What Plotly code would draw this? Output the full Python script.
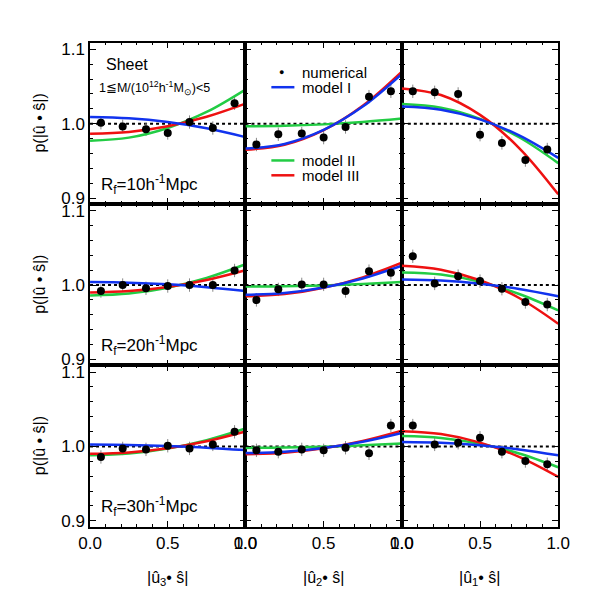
import plotly.graph_objects as go

W = H = 591
x_bins = [0.07, 0.21, 0.36, 0.5, 0.64, 0.79, 0.93]
x_curve = [0.0, 0.25, 0.5, 0.75, 1.0]
err = 0.009

# numerical points [row][col]
num = [
    [[1.0013, 0.9964, 0.9924, 0.9876, 1.0022, 0.9942, 1.0276],
     [0.972, 0.9858, 0.9867, 0.9813, 0.9956, 1.0364, 1.0436],
     [1.0436, 1.0422, 1.040, 0.9853, 0.9742, 0.9511, 0.9653]],
    [[0.992, 1.0, 0.9956, 0.9987, 1.0, 1.0, 1.0196],
     [0.980, 0.9942, 1.0009, 1.0009, 0.992, 1.0187, 1.0164],
     [1.0387, 1.0022, 1.012, 1.0053, 0.9951, 0.9773, 0.9738]],
    [[0.9858, 0.9973, 0.996, 1.0009, 0.9973, 1.0027, 1.0196],
     [0.9947, 0.9929, 0.996, 0.9947, 0.9982, 0.9907, 1.028],
     [1.028, 1.0027, 1.0049, 1.0116, 0.9929, 0.9804, 0.976]],
]
model1 = [
    [[1.009, 1.0073, 1.0023, 0.9938, 0.982],
     [0.9665, 0.9728, 0.9916, 1.023, 1.067],
     [1.023, 1.0187, 1.0058, 0.9842, 0.954]],
    [[1.004, 1.0032, 1.001, 0.9972, 0.992],
     [0.987, 0.9894, 0.9968, 1.0089, 1.026],
     [1.0075, 1.0061, 1.0019, 0.9948, 0.985]],
    [[1.0025, 1.002, 1.0006, 0.9983, 0.995],
     [0.991, 0.9927, 0.9978, 1.0062, 1.018],
     [1.006, 1.0049, 1.0015, 0.9959, 0.988]],
]
model2 = [
    [[0.977, 0.9813, 0.9943, 1.0158, 1.046],
     [0.9965, 0.9972, 0.9991, 1.0024, 1.007],
     [1.0265, 1.0215, 1.0066, 0.9818, 0.947]],
    [[0.986, 0.9886, 0.9965, 1.0096, 1.028],
     [0.998, 0.9984, 0.9995, 1.0014, 1.004],
     [1.017, 1.0142, 1.0044, 0.988, 0.966]],
    [[0.988, 0.9903, 0.997, 1.0083, 1.024],
     [0.998, 0.9984, 0.9995, 1.0014, 1.004],
     [1.014, 1.0114, 1.0035, 0.9904, 0.972]],
]
model3 = [
    [[0.9865, 0.989, 0.9966, 1.0093, 1.027],
     [0.965, 0.9716, 0.9913, 1.0241, 1.07],
     [1.0475, 1.0386, 1.0119, 0.9673, 0.905]],
    [[0.990, 0.9919, 0.9975, 1.0069, 1.02],
     [0.985, 0.9878, 0.9963, 1.0103, 1.03],
     [1.026, 1.0207, 1.0064, 0.9826, 0.948]],
    [[0.990, 0.9919, 0.9975, 1.0069, 1.02],
     [0.9895, 0.9915, 0.9974, 1.0072, 1.021],
     [1.0205, 1.0166, 1.0051, 0.9859, 0.959]],
]
rf_labels = ["R<sub>f</sub>=10h<sup>-1</sup>Mpc", "R<sub>f</sub>=20h<sup>-1</sup>Mpc", "R<sub>f</sub>=30h<sup>-1</sup>Mpc"]
x_titles = ["|û<sub>3</sub>• ŝ|", "|û<sub>2</sub>• ŝ|", "|û<sub>1</sub>• ŝ|"]

xpx = [73, 235, 398, 561]
ypx = [33, 196, 359, 522]
FONT = "Liberation Sans, Arial"
fig = go.Figure()
green, blue, red = "#22cc44", "#1133ee", "#ee1111"

for r in range(3):
    for c in range(3):
        k = r * 3 + c + 1
        xa = "x" if k == 1 else f"x{k}"
        ya = "y" if k == 1 else f"y{k}"
        fig.add_trace(go.Scatter(x=[0, 1], y=[1, 1], mode="lines", xaxis=xa, yaxis=ya,
                                 line=dict(color="black", width=2, dash="dot"), showlegend=False))
        fig.add_trace(go.Scatter(x=x_bins, y=num[r][c], mode="markers", xaxis=xa, yaxis=ya,
                                 marker=dict(color="rgba(0,0,0,0)", size=8),
                                 error_y=dict(type="constant", value=err, color="#888888", thickness=1, width=0),
                                 showlegend=False))
        for m, col in ((model2, green), (model3, red), (model1, blue)):
            fig.add_trace(go.Scatter(x=x_curve, y=m[r][c], mode="lines", line_shape="spline",
                                     xaxis=xa, yaxis=ya, line=dict(color=col, width=2.5), showlegend=False))
        fig.add_trace(go.Scatter(x=x_bins, y=num[r][c], mode="markers", xaxis=xa, yaxis=ya,
                                 marker=dict(color="black", size=8), showlegend=False))
        ax = dict(domain=[xpx[c] / W, xpx[c + 1] / W], range=[0, 1], showgrid=False, zeroline=False,
                  showline=True, linecolor="black", linewidth=1.5, mirror="ticks",
                  ticks="inside", ticklen=6, tickcolor="black", dtick=0.5,
                  minor=dict(dtick=0.1, ticks="inside", ticklen=3, tickcolor="black"),
                  showticklabels=(r == 2), tickformat=".1f",
                  tickfont=dict(family=FONT, size=17, color="black"), anchor=ya)
        ay = dict(domain=[1 - ypx[r + 1] / H, 1 - ypx[r] / H], range=[0.892, 1.109], showgrid=False,
                  zeroline=False, showline=True, linecolor="black", linewidth=1.5, mirror="ticks",
                  ticks="inside", ticklen=6, tickcolor="black", tickvals=[0.9, 1.0, 1.1],
                  minor=dict(dtick=0.02, ticks="inside", ticklen=3, tickcolor="black"),
                  showticklabels=(c == 0), tickformat=".1f",
                  tickfont=dict(family=FONT, size=17, color="black"), anchor=xa)
        fig.layout["xaxis" if k == 1 else f"xaxis{k}"] = ax
        fig.layout["yaxis" if k == 1 else f"yaxis{k}"] = ay

ann = []
def A(x, y, t, size=15, xanchor="left", angle=0):
    ann.append(dict(x=x / W, y=1 - y / H, xref="paper", yref="paper", text=t, showarrow=False,
                    xanchor=xanchor, yanchor="middle", textangle=angle,
                    font=dict(family=FONT, size=size, color="black")))

for r in range(3):
    A(20, (ypx[r] + ypx[r + 1]) / 2, "p(|û • ŝ|)", 16, "center", -90)
    A(82, ypx[r] + 143, rf_labels[r], 17)
for c in range(3):
    A((xpx[c] + xpx[c + 1]) / 2, 574, x_titles[c], 16, "center")
A(88, 55, "Sheet", 16)
A(80, 79, "1≦M/(10<sup>12</sup>h<sup>-1</sup>M<sub>⊙</sub>)<5", 12.5)
A(292, 63, "numerical", 15)
A(292, 78, "model I", 15)
A(292, 152, "model II", 15)
A(292, 167, "model III", 15)
A(273, 63, "●", 9, "center")

shapes = []
for y, col in ((78, blue), (152, green), (167, red)):
    shapes.append(dict(type="line", xref="paper", yref="paper", x0=262 / W, x1=286 / W,
                       y0=1 - y / H, y1=1 - y / H, line=dict(color=col, width=2.5)))

fig.update_layout(width=W, height=H, margin=dict(l=0, r=0, t=0, b=0), plot_bgcolor="white",
                  paper_bgcolor="white", annotations=ann, shapes=shapes, showlegend=False)
fig.write_html("out.html")
